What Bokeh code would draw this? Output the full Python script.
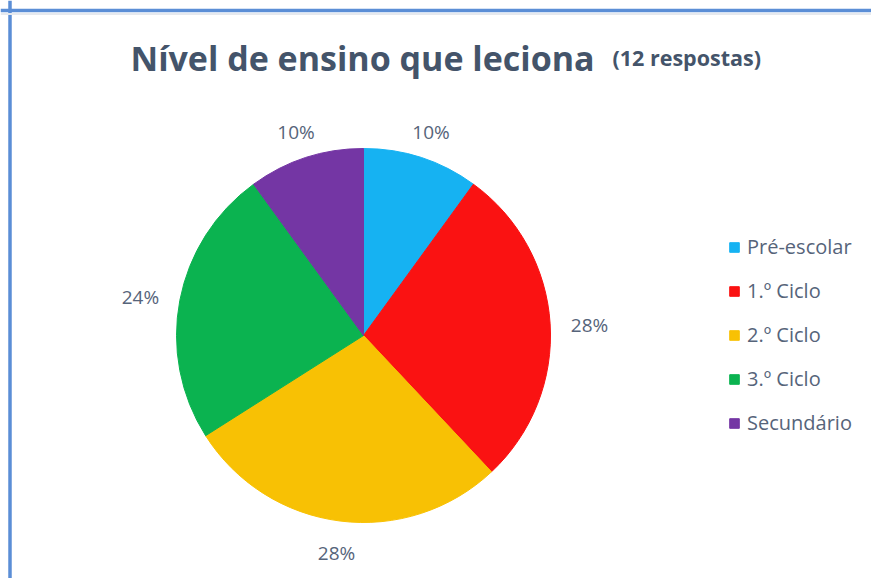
import numpy as np
from bokeh.plotting import figure
from bokeh.models import Range1d, Label, Legend, LegendItem, Span, ColumnDataSource
from bokeh.core.properties import value
from bokeh.embed import file_html
from bokeh.resources import INLINE

categories = ["Pré-escolar", "1.º Ciclo", "2.º Ciclo", "3.º Ciclo", "Secundário"]
percentages = [10, 28, 28, 24, 10]
colors = ["#16B2F2", "#FA1212", "#F8C104", "#0BB350", "#7436A4"]
title_main = "Nível de ensino que leciona"
title_sub = "(12 respostas)"

W, H = 871, 578
CX, CY = 363, 335   # pie centre, px from left / top of the canvas
R = 187
FONT = "Open Sans"
TXT = "#56647A"

p = figure(width=W, height=H, output_backend="svg", toolbar_location=None,
           x_range=Range1d(-CX, W - CX), y_range=Range1d(-(H - CY), CY),
           x_axis_type=None, y_axis_type=None, min_border=0,
           outline_line_color=None, background_fill_color="white",
           border_fill_color="white")
p.grid.visible = False

frac = np.array(percentages, dtype=float) / sum(percentages)
cum = np.cumsum(frac)
start = np.pi / 2 - (cum - frac) * 2 * np.pi
end = np.pi / 2 - cum * 2 * np.pi
src = ColumnDataSource(dict(cat=categories, start=start, end=end, color=colors))
r = p.wedge(x=0, y=0, radius=R, start_angle="start", end_angle="end",
            direction="clock", fill_color="color", line_color="color",
            line_width=1, source=src)

# data labels (outside end)
mid = np.pi / 2 - (cum - frac / 2) * 2 * np.pi
dx, dy = np.cos(mid), np.sin(mid)
rad = R + 17 + 22 * np.abs(dx) + 8 * np.abs(dy)
lab_src = ColumnDataSource(dict(x=rad * dx, y=rad * dy,
                                t=[f"{v}%" for v in percentages]))
p.text(x="x", y="y", text="t", source=lab_src, text_align="center",
       text_baseline="middle", text_font=value(FONT), text_font_size="19px",
       text_color=TXT, y_offset=4)

# title
p.add_layout(Label(x=130 - CX, y=CY - 57, text=title_main, text_font=FONT,
                   text_font_size="34px", text_font_style="bold",
                   text_color="#44546A", text_align="left",
                   text_baseline="alphabetic"))
p.add_layout(Label(x=612 - CX, y=CY - 57, text=title_sub, text_font=FONT,
                   text_font_size="21.5px", text_font_style="bold",
                   text_color="#44546A", text_align="left",
                   text_baseline="alphabetic"))

legend = Legend(items=[LegendItem(label=c, renderers=[r], index=i)
                       for i, c in enumerate(categories)],
                location=(728, 142), orientation="vertical",
                glyph_width=12, glyph_height=12, label_height=27,
                spacing=17, padding=0, margin=0, label_standoff=7,
                label_text_font=FONT, label_text_font_size="20px",
                label_text_color=TXT, border_line_color=None,
                background_fill_alpha=0)
p.add_layout(legend)

# frame borders
p.add_layout(Span(location=-CX + 9.5, dimension="height",
                  line_color="#5B8ED6", line_width=3.5))
p.add_layout(Span(location=CY - 13.5, dimension="width",
                  line_color="#E6E9EE", line_width=2))
p.add_layout(Span(location=CY - 10, dimension="width",
                  line_color="#5B8ED6", line_width=3.5))

open("out.html", "w").write(file_html(p, INLINE))
